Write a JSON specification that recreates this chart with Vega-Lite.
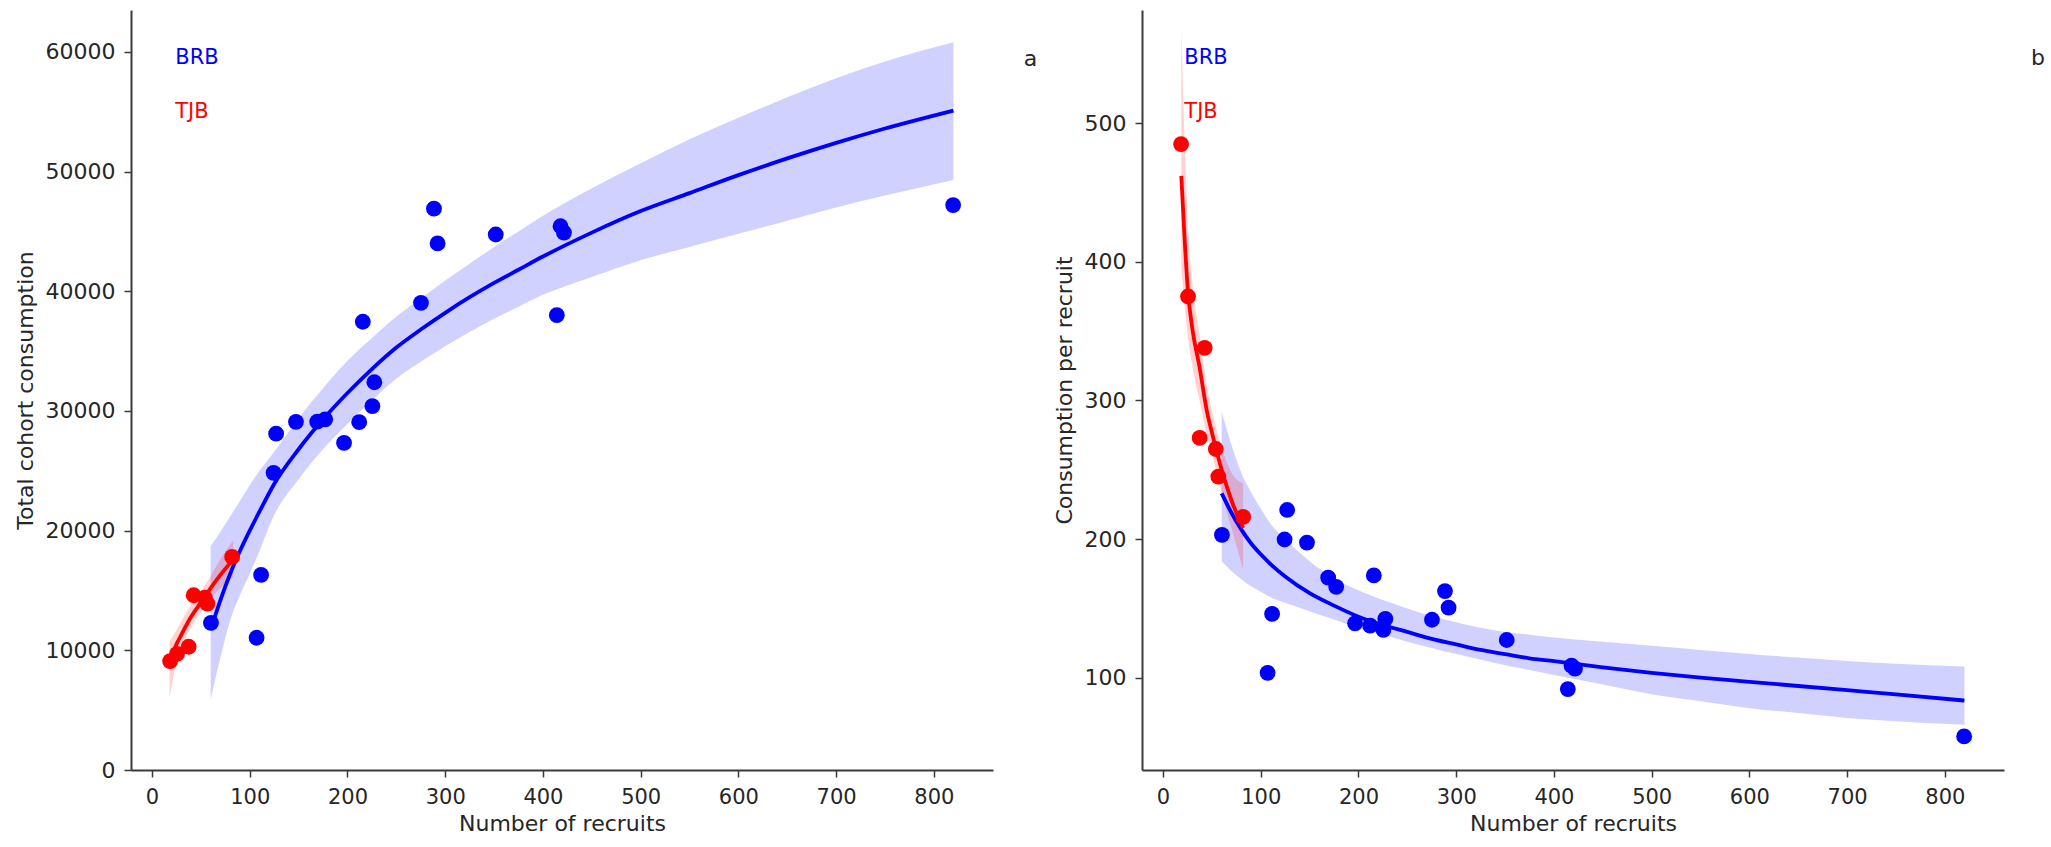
{
  "$schema": "https://vega.github.io/schema/vega-lite/v6.json",
  "background": "white",
  "padding": {"left": 14, "top": 10, "right": 5, "bottom": 5},
  "spacing": 15,
  "config": {
    "view": {"stroke": null},
    "font": "DejaVu Sans",
    "axis": {
      "grid": false,
      "domainColor": "#3a3a3a",
      "domainWidth": 2,
      "tickColor": "#3a3a3a",
      "tickWidth": 1.5,
      "tickSize": 7,
      "labelPadding": 9,
      "labelFont": "DejaVu Sans",
      "labelFontSize": 22,
      "labelColor": "#262626",
      "titleFont": "DejaVu Sans",
      "titleFontSize": 22,
      "titleFontWeight": "normal",
      "titleColor": "#262626"
    },
    "axisX": {"labelFontSize": 21, "titlePadding": 6},
    "axisY": {"titlePadding": 8}
  },
  "datasets": {
    "pts": [
      {"site": "BRB", "recruits": 60.3, "total": 12300, "perRecruit": 203},
      {"site": "BRB", "recruits": 107, "total": 11050, "perRecruit": 103.5},
      {"site": "BRB", "recruits": 111.6, "total": 16300, "perRecruit": 146},
      {"site": "BRB", "recruits": 124.4, "total": 24830, "perRecruit": 199.7},
      {"site": "BRB", "recruits": 127, "total": 28100, "perRecruit": 221},
      {"site": "BRB", "recruits": 147.3, "total": 29090, "perRecruit": 197.5},
      {"site": "BRB", "recruits": 169, "total": 29100, "perRecruit": 172.2},
      {"site": "BRB", "recruits": 177.2, "total": 29300, "perRecruit": 165.5},
      {"site": "BRB", "recruits": 196.5, "total": 27330, "perRecruit": 139.2},
      {"site": "BRB", "recruits": 212, "total": 29060, "perRecruit": 137.5},
      {"site": "BRB", "recruits": 215.7, "total": 37450, "perRecruit": 173.8},
      {"site": "BRB", "recruits": 225.5, "total": 30400, "perRecruit": 134.5},
      {"site": "BRB", "recruits": 227.5, "total": 32400, "perRecruit": 142.4},
      {"site": "BRB", "recruits": 275.2, "total": 39030, "perRecruit": 141.8},
      {"site": "BRB", "recruits": 288.5, "total": 46900, "perRecruit": 162.5},
      {"site": "BRB", "recruits": 292.2, "total": 44000, "perRecruit": 150.5},
      {"site": "BRB", "recruits": 351.7, "total": 44740, "perRecruit": 127.2},
      {"site": "BRB", "recruits": 414.2, "total": 38000, "perRecruit": 91.8},
      {"site": "BRB", "recruits": 418, "total": 45430, "perRecruit": 108.7},
      {"site": "BRB", "recruits": 421.5, "total": 44900, "perRecruit": 106.5},
      {"site": "BRB", "recruits": 819.7, "total": 47200, "perRecruit": 57.6},
      {"site": "TJB", "recruits": 18.5, "total": 9100, "perRecruit": 485},
      {"site": "TJB", "recruits": 25.6, "total": 9700, "perRecruit": 375},
      {"site": "TJB", "recruits": 37.5, "total": 10300, "perRecruit": 273},
      {"site": "TJB", "recruits": 42.6, "total": 14600, "perRecruit": 338},
      {"site": "TJB", "recruits": 54, "total": 14400, "perRecruit": 265},
      {"site": "TJB", "recruits": 56.6, "total": 13900, "perRecruit": 245},
      {"site": "TJB", "recruits": 82, "total": 17800, "perRecruit": 216}
    ],
    "fitA": [
      {"site": "BRB", "recruits": 60, "fit": 11700, "lo": 5900, "hi": 18700},
      {"site": "BRB", "recruits": 70, "fit": 14200, "lo": 9400, "hi": 19900},
      {"site": "BRB", "recruits": 80, "fit": 16400, "lo": 12500, "hi": 21200},
      {"site": "BRB", "recruits": 90, "fit": 18300, "lo": 14600, "hi": 22500},
      {"site": "BRB", "recruits": 100, "fit": 20000, "lo": 16400, "hi": 23800},
      {"site": "BRB", "recruits": 110, "fit": 21600, "lo": 18300, "hi": 25000},
      {"site": "BRB", "recruits": 125, "fit": 23900, "lo": 21300, "hi": 26600},
      {"site": "BRB", "recruits": 150, "fit": 26800, "lo": 24300, "hi": 29400},
      {"site": "BRB", "recruits": 175, "fit": 29300, "lo": 26800, "hi": 31900},
      {"site": "BRB", "recruits": 200, "fit": 31500, "lo": 28900, "hi": 34200},
      {"site": "BRB", "recruits": 225, "fit": 33500, "lo": 30900, "hi": 36100},
      {"site": "BRB", "recruits": 250, "fit": 35300, "lo": 32700, "hi": 37900},
      {"site": "BRB", "recruits": 275, "fit": 36800, "lo": 34100, "hi": 39400},
      {"site": "BRB", "recruits": 300, "fit": 38200, "lo": 35400, "hi": 40900},
      {"site": "BRB", "recruits": 325, "fit": 39500, "lo": 36600, "hi": 42300},
      {"site": "BRB", "recruits": 350, "fit": 40700, "lo": 37700, "hi": 43700},
      {"site": "BRB", "recruits": 375, "fit": 41800, "lo": 38700, "hi": 45000},
      {"site": "BRB", "recruits": 400, "fit": 42900, "lo": 39700, "hi": 46300},
      {"site": "BRB", "recruits": 450, "fit": 44900, "lo": 41200, "hi": 48600},
      {"site": "BRB", "recruits": 500, "fit": 46700, "lo": 42600, "hi": 50700},
      {"site": "BRB", "recruits": 550, "fit": 48200, "lo": 43700, "hi": 52700},
      {"site": "BRB", "recruits": 600, "fit": 49700, "lo": 44800, "hi": 54500},
      {"site": "BRB", "recruits": 650, "fit": 51100, "lo": 45900, "hi": 56200},
      {"site": "BRB", "recruits": 700, "fit": 52400, "lo": 47000, "hi": 57800},
      {"site": "BRB", "recruits": 750, "fit": 53600, "lo": 48000, "hi": 59200},
      {"site": "BRB", "recruits": 820, "fit": 55100, "lo": 49300, "hi": 60800},
      {"site": "TJB", "recruits": 18, "fit": 9000, "lo": 6000, "hi": 10700},
      {"site": "TJB", "recruits": 25, "fit": 10500, "lo": 9000, "hi": 11700},
      {"site": "TJB", "recruits": 30, "fit": 11300, "lo": 10200, "hi": 12400},
      {"site": "TJB", "recruits": 40, "fit": 12800, "lo": 11900, "hi": 13800},
      {"site": "TJB", "recruits": 50, "fit": 14000, "lo": 13200, "hi": 14900},
      {"site": "TJB", "recruits": 60, "fit": 15200, "lo": 14300, "hi": 16200},
      {"site": "TJB", "recruits": 70, "fit": 16300, "lo": 15200, "hi": 17600},
      {"site": "TJB", "recruits": 83, "fit": 17600, "lo": 16100, "hi": 19200}
    ],
    "fitB": [
      {"site": "BRB", "recruits": 60, "fit": 233, "lo": 184, "hi": 292},
      {"site": "BRB", "recruits": 70, "fit": 219, "lo": 177, "hi": 268},
      {"site": "BRB", "recruits": 80, "fit": 207, "lo": 171, "hi": 248},
      {"site": "BRB", "recruits": 90, "fit": 197, "lo": 166, "hi": 234},
      {"site": "BRB", "recruits": 100, "fit": 189, "lo": 162, "hi": 222},
      {"site": "BRB", "recruits": 110, "fit": 182, "lo": 158, "hi": 211},
      {"site": "BRB", "recruits": 125, "fit": 173, "lo": 154, "hi": 200},
      {"site": "BRB", "recruits": 150, "fit": 161, "lo": 148, "hi": 184},
      {"site": "BRB", "recruits": 175, "fit": 152, "lo": 142, "hi": 172},
      {"site": "BRB", "recruits": 200, "fit": 144, "lo": 136, "hi": 163},
      {"site": "BRB", "recruits": 225, "fit": 138, "lo": 131, "hi": 156},
      {"site": "BRB", "recruits": 250, "fit": 133, "lo": 126, "hi": 150},
      {"site": "BRB", "recruits": 275, "fit": 128, "lo": 121.5, "hi": 144.5},
      {"site": "BRB", "recruits": 300, "fit": 124, "lo": 117, "hi": 140},
      {"site": "BRB", "recruits": 325, "fit": 120, "lo": 113, "hi": 136},
      {"site": "BRB", "recruits": 350, "fit": 117, "lo": 109, "hi": 133},
      {"site": "BRB", "recruits": 375, "fit": 114, "lo": 105.5, "hi": 131},
      {"site": "BRB", "recruits": 400, "fit": 112, "lo": 102, "hi": 129},
      {"site": "BRB", "recruits": 450, "fit": 107.5, "lo": 95, "hi": 126},
      {"site": "BRB", "recruits": 500, "fit": 103.5, "lo": 88, "hi": 123},
      {"site": "BRB", "recruits": 550, "fit": 100, "lo": 83, "hi": 120},
      {"site": "BRB", "recruits": 600, "fit": 97, "lo": 78, "hi": 117},
      {"site": "BRB", "recruits": 650, "fit": 94, "lo": 74.5, "hi": 114.5},
      {"site": "BRB", "recruits": 700, "fit": 91, "lo": 71, "hi": 112},
      {"site": "BRB", "recruits": 750, "fit": 88, "lo": 68.5, "hi": 110},
      {"site": "BRB", "recruits": 820, "fit": 83.5, "lo": 66, "hi": 108},
      {"site": "TJB", "recruits": 18.7, "fit": 462, "lo": 395, "hi": 570},
      {"site": "TJB", "recruits": 22, "fit": 418, "lo": 370, "hi": 490},
      {"site": "TJB", "recruits": 25.6, "fit": 378, "lo": 345, "hi": 425},
      {"site": "TJB", "recruits": 30, "fit": 352, "lo": 325, "hi": 385},
      {"site": "TJB", "recruits": 37.4, "fit": 324, "lo": 300, "hi": 348},
      {"site": "TJB", "recruits": 45, "fit": 292, "lo": 275, "hi": 310},
      {"site": "TJB", "recruits": 50, "fit": 277, "lo": 262, "hi": 293},
      {"site": "TJB", "recruits": 60, "fit": 250, "lo": 233, "hi": 266},
      {"site": "TJB", "recruits": 70, "fit": 228, "lo": 208, "hi": 248},
      {"site": "TJB", "recruits": 82, "fit": 208, "lo": 178, "hi": 240}
    ],
    "tagsA": [
      {"site": "BRB", "recruits": 23.8, "value": 59500},
      {"site": "TJB", "recruits": 23.8, "value": 55000}
    ],
    "tagsB": [
      {"site": "BRB", "recruits": 21.8, "value": 547},
      {"site": "TJB", "recruits": 21.8, "value": 508}
    ],
    "letterA": [{"label": "a", "recruits": 892, "value": 59400}],
    "letterB": [{"label": "b", "recruits": 888, "value": 547}]
  },
  "hconcat": [
    {
      "width": 862,
      "height": 760,
      "encoding": {
        "x": {
          "field": "recruits",
          "type": "quantitative",
          "title": "Number of recruits",
          "scale": {"domain": [-21.5, 860.5], "nice": false, "zero": false},
          "axis": {"values": [0, 100, 200, 300, 400, 500, 600, 700, 800]}
        }
      },
      "layer": [
        {
          "data": {"name": "fitA"},
          "mark": {"type": "area", "opacity": 0.18, "interpolate": "monotone"},
          "encoding": {
            "y": {
              "field": "lo",
              "type": "quantitative",
              "title": "Total cohort consumption",
              "scale": {"domain": [0, 63500], "nice": false},
              "axis": {"values": [0, 10000, 20000, 30000, 40000, 50000, 60000], "format": "d"}
            },
            "y2": {"field": "hi"},
            "color": {
              "field": "site",
              "type": "nominal",
              "scale": {"domain": ["BRB", "TJB"], "range": ["#0000ff", "#ff0000"]},
              "legend": null
            }
          }
        },
        {
          "data": {"name": "fitA"},
          "mark": {"type": "line", "strokeWidth": 3.8, "interpolate": "monotone"},
          "encoding": {
            "y": {"field": "fit", "type": "quantitative", "title": "Total cohort consumption"},
            "color": {"field": "site", "type": "nominal", "legend": null}
          }
        },
        {
          "data": {"name": "pts"},
          "mark": {"type": "circle", "size": 250, "opacity": 1},
          "encoding": {
            "y": {"field": "total", "type": "quantitative", "title": "Total cohort consumption"},
            "color": {"field": "site", "type": "nominal", "legend": null}
          }
        },
        {
          "data": {"name": "tagsA"},
          "mark": {"type": "text", "align": "left", "baseline": "middle", "fontSize": 21},
          "encoding": {
            "y": {"field": "value", "type": "quantitative", "title": "Total cohort consumption"},
            "text": {"field": "site"},
            "color": {"field": "site", "type": "nominal", "legend": null}
          }
        },
        {
          "data": {"name": "letterA"},
          "mark": {"type": "text", "align": "left", "baseline": "middle", "fontSize": 22, "color": "#262626"},
          "encoding": {
            "y": {"field": "value", "type": "quantitative", "title": "Total cohort consumption"},
            "text": {"field": "label"}
          }
        }
      ]
    },
    {
      "width": 862,
      "height": 760,
      "encoding": {
        "x": {
          "field": "recruits",
          "type": "quantitative",
          "title": "Number of recruits",
          "scale": {"domain": [-21.5, 860.5], "nice": false, "zero": false},
          "axis": {"values": [0, 100, 200, 300, 400, 500, 600, 700, 800]}
        }
      },
      "layer": [
        {
          "data": {"name": "fitB"},
          "mark": {"type": "area", "opacity": 0.18, "interpolate": "monotone"},
          "encoding": {
            "y": {
              "field": "lo",
              "type": "quantitative",
              "title": "Consumption per recruit",
              "scale": {"domain": [33.4, 581.7], "nice": false, "zero": false},
              "axis": {"values": [100, 200, 300, 400, 500], "format": "d"}
            },
            "y2": {"field": "hi"},
            "color": {"field": "site", "type": "nominal", "legend": null}
          }
        },
        {
          "data": {"name": "fitB"},
          "mark": {"type": "line", "strokeWidth": 3.8, "interpolate": "monotone"},
          "encoding": {
            "y": {"field": "fit", "type": "quantitative", "title": "Consumption per recruit"},
            "color": {"field": "site", "type": "nominal", "legend": null}
          }
        },
        {
          "data": {"name": "pts"},
          "mark": {"type": "circle", "size": 250, "opacity": 1},
          "encoding": {
            "y": {"field": "perRecruit", "type": "quantitative", "title": "Consumption per recruit"},
            "color": {"field": "site", "type": "nominal", "legend": null}
          }
        },
        {
          "data": {"name": "tagsB"},
          "mark": {"type": "text", "align": "left", "baseline": "middle", "fontSize": 21},
          "encoding": {
            "y": {"field": "value", "type": "quantitative", "title": "Consumption per recruit"},
            "text": {"field": "site"},
            "color": {"field": "site", "type": "nominal", "legend": null}
          }
        },
        {
          "data": {"name": "letterB"},
          "mark": {"type": "text", "align": "left", "baseline": "middle", "fontSize": 22, "color": "#262626"},
          "encoding": {
            "y": {"field": "value", "type": "quantitative", "title": "Consumption per recruit"},
            "text": {"field": "label"}
          }
        }
      ]
    }
  ]
}
